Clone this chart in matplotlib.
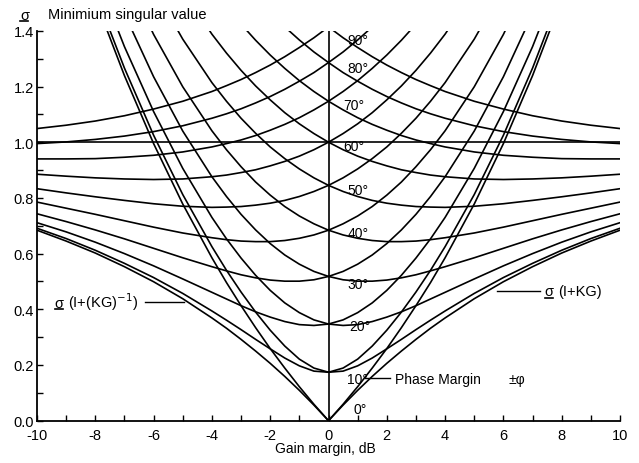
import matplotlib
matplotlib.use('Agg')
import matplotlib.pyplot as plt
import numpy as np
from matplotlib.ticker import FormatStrFormatter

plt.rcParams['font.family'] = ['Liberation Sans', 'DejaVu Sans']
plt.rcParams['axes.unicode_minus'] = False

# gain margin grid (dB) and minimum singular value of I+(KG)^-1 read per phase angle
gain_db = [-10, -9, -8, -7, -6, -5, -4, -3.5, -3, -2.5, -2, -1.5, -1, -0.5, 0,
           0.5, 1, 1.5, 2, 2.5, 3, 3.5, 4, 5, 6, 7, 8, 9, 10]

p0 = [0.684, 0.645, 0.602, 0.553, 0.499, 0.438, 0.369, 0.332, 0.292, 0.250, 0.206, 0.159, 0.109, 0.056, 0.000,
      0.059, 0.122, 0.189, 0.259, 0.334, 0.413, 0.496, 0.585, 0.778, 0.995, 1.239, 1.512, 1.818, 2.162]
p10 = [0.691, 0.654, 0.612, 0.565, 0.514, 0.457, 0.394, 0.361, 0.327, 0.292, 0.258, 0.225, 0.197, 0.178, 0.174,
       0.189, 0.221, 0.268, 0.325, 0.390, 0.462, 0.540, 0.625, 0.812, 1.025, 1.266, 1.537, 1.842, 2.184]
p20 = [0.711, 0.678, 0.641, 0.600, 0.556, 0.509, 0.461, 0.437, 0.413, 0.391, 0.372, 0.356, 0.345, 0.342, 0.347,
       0.362, 0.388, 0.423, 0.468, 0.522, 0.584, 0.653, 0.730, 0.906, 1.110, 1.343, 1.609, 1.910, 2.249]
p30 = [0.743, 0.715, 0.685, 0.653, 0.619, 0.585, 0.553, 0.538, 0.524, 0.513, 0.505, 0.501, 0.501, 0.506, 0.518,
       0.536, 0.562, 0.595, 0.636, 0.685, 0.741, 0.805, 0.876, 1.040, 1.235, 1.461, 1.720, 2.015, 2.350]
p40 = [0.785, 0.763, 0.741, 0.718, 0.695, 0.674, 0.657, 0.650, 0.645, 0.643, 0.643, 0.647, 0.655, 0.667, 0.684,
       0.707, 0.735, 0.769, 0.810, 0.857, 0.912, 0.973, 1.041, 1.199, 1.387, 1.607, 1.860, 2.151, 2.481]
p50 = [0.833, 0.818, 0.804, 0.791, 0.779, 0.770, 0.766, 0.767, 0.769, 0.774, 0.781, 0.791, 0.805, 0.823, 0.845,
       0.872, 0.904, 0.941, 0.983, 1.032, 1.086, 1.147, 1.214, 1.370, 1.554, 1.770, 2.020, 2.307, 2.633]
p60 = [0.885, 0.878, 0.872, 0.868, 0.866, 0.868, 0.876, 0.882, 0.891, 0.901, 0.915, 0.931, 0.950, 0.973, 1.000,
       1.031, 1.066, 1.106, 1.152, 1.202, 1.258, 1.320, 1.388, 1.544, 1.728, 1.943, 2.190, 2.475, 2.800]
p70 = [0.940, 0.940, 0.941, 0.946, 0.953, 0.965, 0.983, 0.995, 1.008, 1.024, 1.043, 1.064, 1.088, 1.116, 1.147,
       1.182, 1.221, 1.265, 1.313, 1.366, 1.424, 1.488, 1.558, 1.716, 1.902, 2.117, 2.365, 2.649, 2.973]
p80 = [0.995, 1.001, 1.010, 1.022, 1.038, 1.059, 1.086, 1.102, 1.120, 1.141, 1.164, 1.190, 1.219, 1.250, 1.286,
       1.324, 1.367, 1.414, 1.466, 1.522, 1.583, 1.649, 1.721, 1.883, 2.071, 2.288, 2.537, 2.822, 3.147]
p90 = [1.049, 1.061, 1.076, 1.095, 1.119, 1.147, 1.182, 1.203, 1.225, 1.250, 1.277, 1.307, 1.340, 1.375, 1.414,
       1.457, 1.503, 1.553, 1.608, 1.667, 1.731, 1.800, 1.874, 2.040, 2.232, 2.452, 2.704, 2.991, 3.317]

phases = [0, 10, 20, 30, 40, 50, 60, 70, 80, 90]
curves = [p0, p10, p20, p30, p40, p50, p60, p70, p80, p90]
# where the phase labels sit (y) next to the centre line
label_y = [0.043, 0.151, 0.34, 0.49, 0.673, 0.83, 0.986, 1.133, 1.266, 1.367]
label_x = [0.85, 0.65, 0.7, 0.65, 0.65, 0.65, 0.5, 0.5, 0.65, 0.65]

W, H = 639, 464
fig = plt.figure(figsize=(W / 100, H / 100), dpi=100)
ax = fig.add_axes([37 / W, 1 - 421.7 / H, 583 / W, 389.9 / H])

neg_gain = [-g for g in gain_db]
for vals in curves:
    ax.plot(gain_db, vals, color='k', lw=1.2)   # sigma(I+(KG)^-1)
    ax.plot(neg_gain, vals, color='k', lw=1.2)  # sigma(I+KG), mirror in dB
ax.axhline(1.0, color='k', lw=1.2)
ax.axvline(0, color='k', lw=1.2)

ax.set_xlim(-10, 10)
ax.set_ylim(0, 1.4)
for s in ['top', 'right']:
    ax.spines[s].set_visible(False)
for s in ['left', 'bottom']:
    ax.spines[s].set_linewidth(1.3)
ax.set_xticks(range(-10, 11, 2))
ax.set_xticks(range(-10, 11), minor=True)
ax.set_yticks(np.arange(0, 1.41, 0.2))
ax.set_yticks(np.arange(0, 1.41, 0.1), minor=True)
ax.yaxis.set_major_formatter(FormatStrFormatter('%.1f'))
ax.tick_params(which='both', direction='in', length=4, width=1)
ax.tick_params(axis='x', labelsize=10.5, pad=5)
ax.tick_params(axis='y', labelsize=10.5, pad=2)

for p, lx, ly in zip(phases, label_x, label_y):
    ax.text(lx, ly, f'{p}°', fontsize=10, ha='left', va='center')

# phase margin callout
ax.plot([1.26, 2.1], [0.152, 0.152], color='k', lw=1)
ax.text(2.29, 0.151, 'Phase Margin', fontsize=10, ha='left', va='center')
ax.text(6.16, 0.151, '±φ', fontsize=10, ha='left', va='center')


def sigma_text(x, y, rest, size=10):
    # y is the text baseline; sigma gets an underline just below it
    ax.text(x, y, 'σ', fontsize=size, ha='left', va='baseline')
    ax.plot([x + 0.02, x + 0.3], [y - 0.008, y - 0.008], color='k', lw=1.2)
    ax.text(x + 0.48, y, rest, fontsize=size, ha='left', va='baseline')


sigma_text(-9.4, 0.410, '(I+(KG)$^{\\mathsf{-1}}$)', size=10.5)
ax.plot([-6.31, -4.94], [0.427, 0.427], color='k', lw=1)
sigma_text(7.4, 0.450, '(I+KG)', size=10.5)
ax.plot([5.78, 7.26], [0.466, 0.466], color='k', lw=1)

# y-axis title at the top left
fig.text(20 / W, 1 - 19.5 / H, 'σ', fontsize=10.5, ha='left', va='baseline')
fig.add_artist(plt.Line2D([20 / W, 28 / W], [1 - 21.5 / H, 1 - 21.5 / H], color='k', lw=1.2))
fig.text(48 / W, 1 - 19.5 / H, 'Minimium singular value', fontsize=10.5, ha='left', va='baseline')

fig.text(325 / W, 1 - 449 / H, 'Gain margin, dB', fontsize=10, ha='center', va='center')

fig.savefig('out.png', dpi=100)
